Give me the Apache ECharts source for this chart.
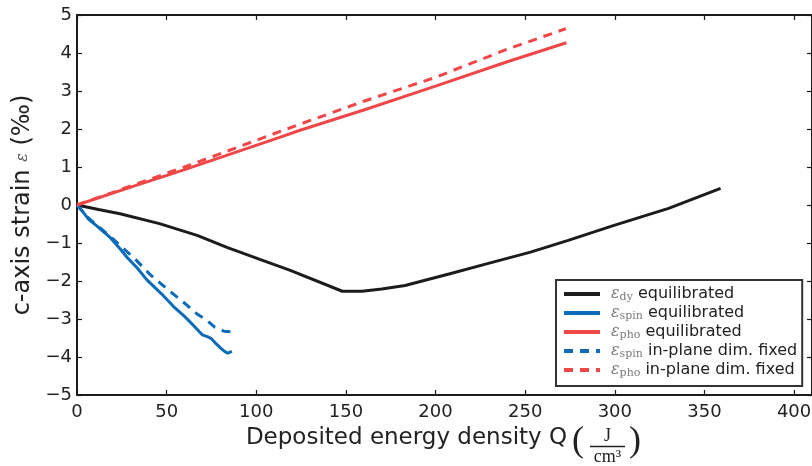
<!DOCTYPE html>
<html>
<head>
<meta charset="utf-8">
<script src="https://cdn.jsdelivr.net/npm/echarts@6/dist/echarts.min.js"></script>
<style>html,body{margin:0;padding:0;background:#fff;}#chart{width:812px;height:466px;}</style>
</head>
<body>
<div id="chart"></div>
<script>
// ---- data ----
const xTicks = [0, 50, 100, 150, 200, 250, 300, 350, 400];
const yTicks = [-5, -4, -3, -2, -1, 0, 1, 2, 3, 4, 5];

const dyQ = [0, 12, 24, 46, 67, 84, 102, 119, 148, 159, 170, 183, 208, 230, 253, 274, 300, 330, 359];
const dyV = [0, -0.12, -0.23, -0.49, -0.80, -1.12, -1.43, -1.72, -2.27, -2.27, -2.21, -2.12, -1.81, -1.53, -1.24, -0.93, -0.53, -0.09, 0.44];

const spinQ = [0, 3, 6.5, 11, 18.6, 24, 28, 34, 39, 47, 54, 60, 65, 70, 73, 75, 78, 80, 82, 84, 86.4];
const spinV = [0, -0.16, -0.38, -0.55, -0.86, -1.15, -1.38, -1.68, -1.97, -2.33, -2.68, -2.93, -3.17, -3.42, -3.47, -3.52, -3.67, -3.76, -3.84, -3.9, -3.85];

const phoQ = [0, 30, 60, 113, 124, 160, 200, 240, 273];
const phoV = [0, 0.47, 0.93, 1.78, 1.96, 2.5, 3.13, 3.77, 4.27];

const spinFixQ = [0, 5, 9, 18.6, 26, 33, 41, 50, 61, 67, 72, 77, 82, 86.4];
const spinFixV = [0, -0.28, -0.45, -0.83, -1.15, -1.45, -1.84, -2.2, -2.62, -2.87, -3.02, -3.22, -3.32, -3.34];

const phoFixQ = [0, 30, 60, 113, 124, 160, 200, 240, 272.7];
const phoFixV = [0, 0.5, 1.0, 1.93, 2.12, 2.73, 3.36, 4.1, 4.64];

const names = ['ε_dy equilibrated', 'ε_spin equilibrated', 'ε_pho equilibrated', 'ε_spin in-plane dim. fixed', 'ε_pho in-plane dim. fixed'];
// -------------------------------------

const pairs = (q, v) => q.map((x, i) => [x, v[i]]);
const BLACK = '#1c1c1c', BLUE = '#0a6cb8', RED = '#ef4747';
const fmtNum = v => String(v).replace('-', '\u2212');

const chart = echarts.init(document.getElementById('chart'), null, {renderer: 'canvas'});

const axisLine = {show: true, onZero: false, lineStyle: {color: '#1c1c1c', width: 2}};
const tick = {show: true, inside: true, length: 5, lineStyle: {color: '#1c1c1c', width: 1.2}};
const labelFont = {fontFamily: 'DejaVu Sans', fontSize: 18, color: '#222'};

function lineSeries(name, q, v, color, dashed) {
  return {
    name, type: 'line', data: pairs(q, v), xAxisIndex: 0, yAxisIndex: 0,
    showSymbol: false, symbol: 'none', smooth: false, animation: false,
    lineStyle: {color, width: 3, type: dashed ? [9, 7] : 'solid'},
    itemStyle: {color}
  };
}

const legendRich = {
  e: {fontFamily: 'DejaVu Serif', fontStyle: 'italic', fontSize: 16, color: '#7a7a7a', lineHeight: 18},
  s: {fontFamily: 'DejaVu Serif', fontSize: 11, color: '#7a7a7a', verticalAlign: 'bottom', lineHeight: 18, padding: [7, 0, 0, 0]},
  t: {fontFamily: 'DejaVu Sans', fontSize: 16, color: '#222', lineHeight: 18}
};

chart.setOption({
  backgroundColor: '#fff',
  animation: false,
  grid: {left: 77, right: 0, top: 15, bottom: 71, outerBoundsMode: 'none', show: false},
  xAxis: [{
    type: 'value', min: 0, max: 410, interval: 50, position: 'bottom',
    axisLine, axisTick: tick, splitLine: {show: false},
    axisLabel: Object.assign({margin: 8, showMaxLabel: false, formatter: fmtNum}, labelFont),
    name: 'Deposited energy density Q', nameLocation: 'middle', nameGap: 32,
    nameTextStyle: {fontFamily: 'DejaVu Sans', fontSize: 23, color: '#222', padding: [0, 76, 0, 0]}
  }, {
    type: 'value', min: 0, max: 410, interval: 50, position: 'top',
    axisLine, axisTick: tick, splitLine: {show: false}, axisLabel: {show: false}
  }],
  yAxis: [{
    type: 'value', min: -5, max: 5, interval: 1, position: 'left',
    axisLine, axisTick: tick, splitLine: {show: false},
    axisLabel: Object.assign({margin: 5, formatter: fmtNum}, labelFont),
    name: 'c-axis strain {e|ε} (‰)', nameLocation: 'middle', nameGap: 38, nameRotate: 90,
    nameTextStyle: {fontFamily: 'DejaVu Sans', fontSize: 24, color: '#222',
      rich: {e: {fontFamily: 'DejaVu Serif', fontStyle: 'italic', fontSize: 16, color: '#555'}}}
  }, {
    type: 'value', min: -5, max: 5, interval: 1, position: 'right',
    axisLine, axisTick: tick, splitLine: {show: false}, axisLabel: {show: false}
  }],
  legend: {
    show: true, orient: 'vertical', left: 556, top: 280,
    data: names,
    padding: [5, 5, 7, 6], itemGap: 1, itemWidth: 36, itemHeight: 12,
    itemStyle: {opacity: 0, borderWidth: 0},
    lineStyle: {width: 4},
    borderColor: '#333', borderWidth: 2, backgroundColor: '#fff',
    textStyle: {fontFamily: 'DejaVu Sans', fontSize: 16, color: '#222', rich: legendRich, padding: [0, 0, 0, 6]},
    formatter: function (n) {
      const m = n.match(/^ε_(\w+) (.*)$/);
      return '{e|ε}{s|' + m[1] + '} {t|' + m[2] + '}';
    }
  },
  graphic: [
    {type: 'text', left: 572, top: 424, style: {text: '(', font: '36px "Liberation Serif"', fill: '#222'}, silent: true},
    {type: 'text', left: 629, top: 424, style: {text: ')', font: '36px "Liberation Serif"', fill: '#222'}, silent: true},
    {type: 'text', x: 607.5, y: 436, style: {text: 'J', font: '18px "Liberation Serif"', fill: '#222', align: 'center', verticalAlign: 'middle'}, silent: true},
    {type: 'line', shape: {x1: 590, y1: 446.5, x2: 625, y2: 446.5}, style: {stroke: '#222', lineWidth: 1.5}, silent: true},
    {type: 'text', x: 607.5, y: 457, style: {text: 'cm³', font: '18px "Liberation Serif"', fill: '#222', align: 'center', verticalAlign: 'middle'}, silent: true}
  ],
  series: [
    lineSeries(names[0], dyQ, dyV, BLACK, false),
    lineSeries(names[1], spinQ, spinV, BLUE, false),
    lineSeries(names[2], phoQ, phoV, RED, false),
    lineSeries(names[3], spinFixQ, spinFixV, BLUE, true),
    lineSeries(names[4], phoFixQ, phoFixV, RED, true)
  ]
});
</script>
</body>
</html>
